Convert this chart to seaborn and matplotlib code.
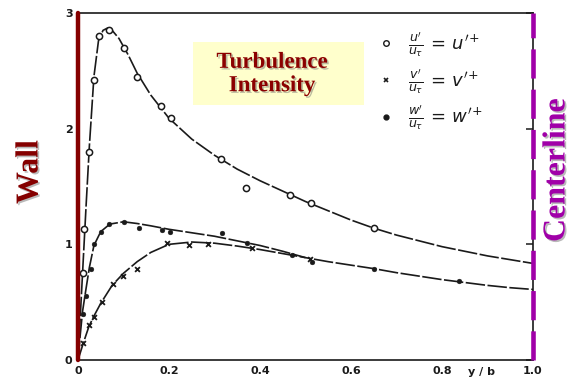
import matplotlib
matplotlib.use("Agg")
import matplotlib.pyplot as plt
import matplotlib.patheffects as pe
from matplotlib.lines import Line2D
from matplotlib.patches import Rectangle
import seaborn as sns
import pandas as pd

# ---- measured points ----
u_x = [0.012, 0.014, 0.025, 0.035, 0.046, 0.069, 0.10, 0.13, 0.182, 0.204, 0.314, 0.369, 0.466, 0.512, 0.651]
u_y = [0.75, 1.13, 1.80, 2.42, 2.80, 2.85, 2.70, 2.45, 2.20, 2.09, 1.74, 1.49, 1.43, 1.36, 1.14]

v_x = [0.012, 0.024, 0.035, 0.053, 0.078, 0.098, 0.129, 0.195, 0.243, 0.285, 0.382, 0.51]
v_y = [0.15, 0.30, 0.37, 0.50, 0.66, 0.73, 0.79, 1.01, 0.99, 1.00, 0.965, 0.87]

w_x = [0.010, 0.017, 0.028, 0.035, 0.051, 0.069, 0.101, 0.134, 0.184, 0.202, 0.316, 0.371, 0.47, 0.514, 0.651, 0.838]
w_y = [0.40, 0.55, 0.79, 1.00, 1.11, 1.175, 1.19, 1.14, 1.125, 1.11, 1.095, 1.01, 0.91, 0.85, 0.79, 0.68]

# ---- fitted curves ----
u_cx = [0, 0.004, 0.008, 0.012, 0.018, 0.025, 0.035, 0.045, 0.055, 0.065, 0.075, 0.09, 0.11, 0.13, 0.16,
        0.2, 0.25, 0.3, 0.35, 0.4, 0.45, 0.5, 0.55, 0.6, 0.65, 0.7, 0.8, 0.9, 1.0]
u_cy = [0, 0.3, 0.6, 0.9, 1.35, 1.85, 2.45, 2.76, 2.85, 2.87, 2.85, 2.78, 2.64, 2.48, 2.29,
        2.09, 1.91, 1.77, 1.65, 1.55, 1.46, 1.37, 1.29, 1.21, 1.14, 1.08, 0.98, 0.90, 0.835]

w_cx = [0, 0.005, 0.01, 0.017, 0.025, 0.035, 0.05, 0.07, 0.1, 0.13, 0.16, 0.2, 0.25, 0.3, 0.35, 0.4,
        0.45, 0.5, 0.55, 0.6, 0.65, 0.7, 0.75, 0.8, 0.85, 0.9, 0.95, 1.0]
w_cy = [0, 0.22, 0.42, 0.6, 0.8, 0.99, 1.11, 1.175, 1.195, 1.18, 1.16, 1.13, 1.10, 1.07, 1.03, 0.99,
        0.94, 0.885, 0.85, 0.82, 0.79, 0.755, 0.725, 0.695, 0.67, 0.645, 0.625, 0.61]

v_cx = [0, 0.012, 0.024, 0.035, 0.05, 0.075, 0.1, 0.13, 0.16, 0.2, 0.25, 0.3, 0.35, 0.4, 0.45, 0.5]
v_cy = [0, 0.15, 0.29, 0.38, 0.49, 0.645, 0.75, 0.85, 0.93, 1.0, 1.02, 1.01, 0.985, 0.955, 0.92, 0.885]

x_ticks = [0, 0.2, 0.4, 0.6, 0.8, 1.0]
x_tick_labels = ["0", "0.2", "0.4", "0.6", "0.8", "1.0"]
y_ticks = [0, 1, 2, 3]
y_tick_labels = ["0", "1", "2", "3"]

sns.set_style("white")
plt.rcParams["font.family"] = ["DejaVu Sans"]
plt.rcParams["lines.scale_dashes"] = False

fig = plt.figure(figsize=(5.73, 3.81), dpi=100)
ax = fig.add_axes([78 / 573, 21 / 381, 455 / 573, 347 / 381])

line_kw = dict(color="#1a1a1a", linewidth=1.2, sort=False, estimator=None, legend=False)
for cx, cy in [(u_cx, u_cy), (w_cx, w_cy), (v_cx, v_cy)]:
    sns.lineplot(data=pd.DataFrame({"x": cx, "y": cy}), x="x", y="y", ax=ax,
                 dashes=False, **line_kw)
for l in ax.lines:
    l.set_dashes((14, 1.8))

sns.scatterplot(data=pd.DataFrame({"x": u_x, "y": u_y}), x="x", y="y", ax=ax, marker="o",
                s=20, facecolor="white", edgecolor="#1a1a1a", linewidth=1.1, zorder=5, legend=False)
sns.scatterplot(data=pd.DataFrame({"x": v_x, "y": v_y}), x="x", y="y", ax=ax, marker="x",
                s=12, color="#1a1a1a", linewidth=1.3, zorder=5, legend=False)
sns.scatterplot(data=pd.DataFrame({"x": w_x, "y": w_y}), x="x", y="y", ax=ax, marker="o",
                s=12, color="#1a1a1a", edgecolor="#1a1a1a", zorder=5, legend=False)

ax.set_xlim(0, 1.0)
ax.set_ylim(0, 3)
ax.set_xticks(x_ticks)
ax.set_xticklabels(x_tick_labels)
ax.set_yticks(y_ticks)
ax.set_yticklabels(y_tick_labels)
ax.tick_params(direction="in", length=5, width=1.1, labelsize=8, pad=4, colors="#1a1a1a",
               right=True)
for t in ax.get_xticklabels() + ax.get_yticklabels():
    t.set_fontweight("bold")
for s in ax.spines.values():
    s.set_linewidth(1.2)
    s.set_color("#1a1a1a")
ax.set_ylabel("")
ax.set_xlabel("y / b", fontsize=8, fontweight="bold", color="#1a1a1a")
ax.xaxis.set_label_coords(403 / 455, -0.035)
ax.xaxis.label.set_va("center")

# Wall and centerline
ax.axvline(0, color="#850000", linewidth=3.2, zorder=6, clip_on=False)
ax.axvline(1.0, color="#A000A8", linewidth=3.3, linestyle=(0, (21, 8)), zorder=6, clip_on=False)

shadow = [pe.SimplePatchShadow(offset=(1.2, -1.2), shadow_rgbFace="#666666", alpha=0.45), pe.Normal()]
fig.text(30 / 573, 1 - 172 / 381, "Wall", rotation=90, ha="center", va="center",
         family="Liberation Serif", fontweight="bold", fontsize=23, color="#850000",
         path_effects=shadow)
fig.text(557 / 573, 1 - 170 / 381, "Centerline", rotation=90, ha="center", va="center",
         family="Liberation Serif", fontweight="bold", fontsize=23, color="#A000A8",
         path_effects=shadow)

# Title box
fig.patches.append(Rectangle((193 / 573, 1 - 105 / 381), 171 / 573, 63 / 381,
                             transform=fig.transFigure, facecolor="#FFFFCC", edgecolor="none",
                             zorder=3))
fig.text(272 / 573, 1 - 74 / 381, "Turbulence\nIntensity", ha="center", va="center",
         family="Liberation Serif", fontweight="bold", fontsize=16.5, color="#8B0000",
         linespacing=1.15, path_effects=shadow, zorder=4)

# Legend
handles = [
    Line2D([], [], linestyle="none", marker="o", markersize=4, markerfacecolor="white",
           markeredgecolor="#1a1a1a", markeredgewidth=1.0),
    Line2D([], [], linestyle="none", marker="x", markersize=3, color="#1a1a1a",
           markeredgewidth=1.2),
    Line2D([], [], linestyle="none", marker="o", markersize=3.5, color="#1a1a1a"),
]
labels = [r"$\frac{u'}{u_\tau}\,=\,u'^{+}$", r"$\frac{v'}{u_\tau}\,=\,v'^{+}$",
          r"$\frac{w'}{u_\tau}\,=\,w'^{+}$"]
leg = ax.legend(handles, labels, loc="upper left", bbox_to_anchor=(0.622, 0.998), frameon=False,
                fontsize=13, labelspacing=0.45, handletextpad=0.7, handlelength=1.0)
for t in leg.get_texts():
    t.set_color("#1a1a1a")

fig.savefig("out.png", dpi=100)
